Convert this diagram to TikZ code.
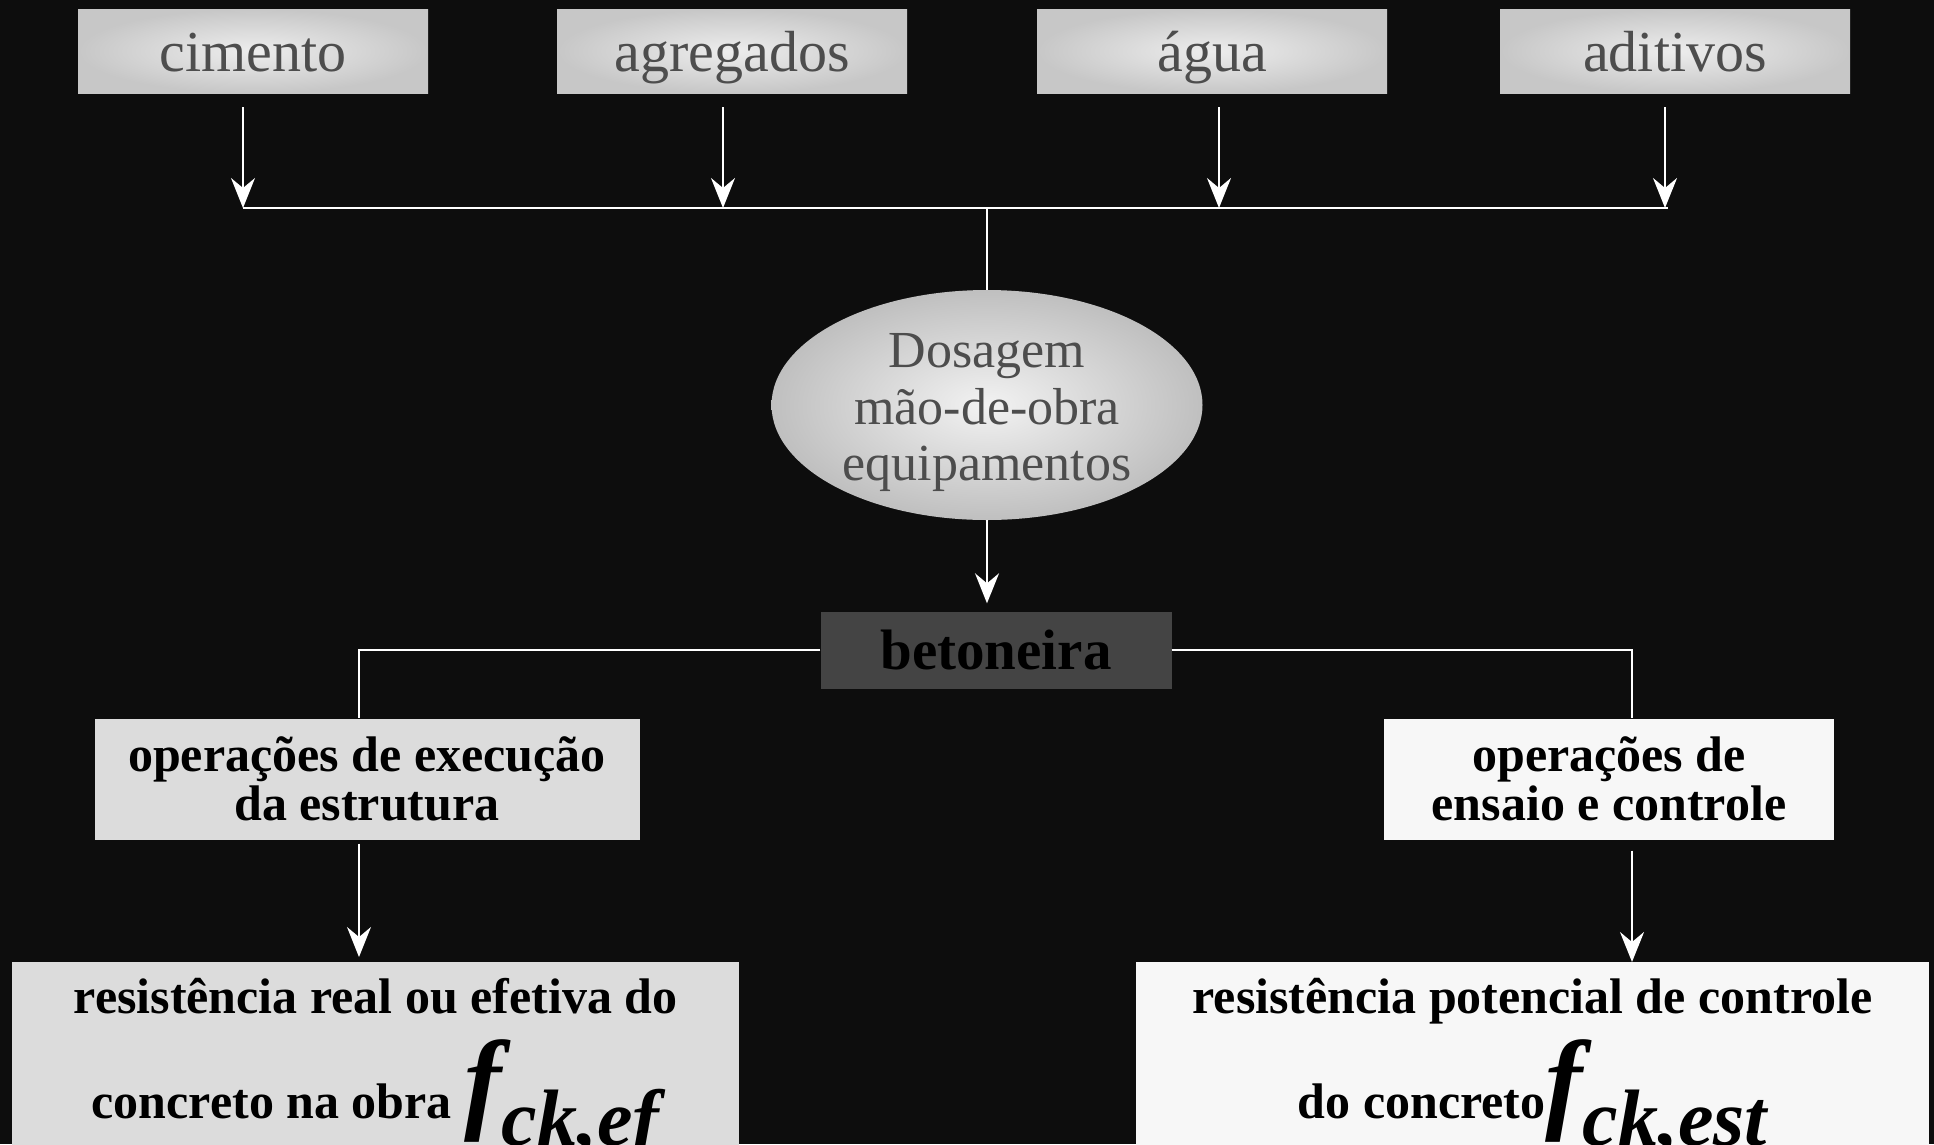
\documentclass[tikz,border=0pt]{standalone}
\usepackage{fontspec}
\setmainfont{Liberation Serif}
\usetikzlibrary{arrows.meta,positioning,shapes.geometric,calc}
\definecolor{fundo}{HTML}{0D0D0D}
\definecolor{cinzaclaro}{HTML}{DCDCDC}
\definecolor{quasebranco}{HTML}{F7F7F7}
\definecolor{cinzaescuro}{HTML}{444444}
\definecolor{texto}{HTML}{4D4D4D}
\newcommand{\letraf}{{\fontsize{112}{112}\selectfont\itshape f}}
\newcommand{\indice}[1]{\raisebox{-27pt}{\fontsize{80}{80}\selectfont\itshape #1}}

\begin{document}
\begin{tikzpicture}[x=1pt,y=-1pt,
  insumo/.style={rectangle,inner sep=0pt,minimum width=350pt,minimum height=84pt,inner color=white!93!black,outer color=white!78!black,text=texto,font=\fontsize{58}{58}\selectfont,text height=46pt,text depth=6pt},
  dosagem/.style={ellipse,inner sep=-8pt,minimum width=431pt,minimum height=230pt,inner color=white!95!black,outer color=white!75!black,text=texto,font=\fontsize{52}{56.5}\selectfont,align=center},
  misturador/.style={rectangle,inner sep=0pt,fill=cinzaescuro,minimum width=351pt,minimum height=77pt,font=\fontsize{57}{57}\selectfont\bfseries},
  operacao/.style={rectangle,inner sep=0pt,minimum height=121pt,font=\fontsize{50}{49}\selectfont\bfseries,align=center},
  resultado/.style={rectangle,inner xsep=0pt,inner ysep=16pt,font=\fontsize{50}{60}\selectfont\bfseries,align=center},
  ligacao/.style={line width=2pt,white},
  flecha/.style={-{Stealth[length=30pt,width=24pt,inset=10pt]},line width=2pt,white},
]
  \useasboundingbox (0,0) rectangle (1934,1144);
  \clip (0,0) rectangle (1934,1144);
  \fill[fundo] (0,0) rectangle (1934,1144);

  \node[insumo] (cim) at (253,51) {cimento};
  \node[insumo] (agr) at (732,51) {agregados};
  \node[insumo] (agu) at (1212,51) {água};
  \node[insumo] (adi) at (1675,51) {aditivos};
  \coordinate (junta) at (987,208);

  \node[dosagem] (dos) at (987,405) {\rule{0pt}{50pt}Dosagem\\mão-de-obra\\equipamentos};
  \node[misturador] (bet) at (996,650) {betoneira};

  \node[operacao,fill=cinzaclaro,minimum width=545pt] (exe) at (367,779) {operações de execução\\da estrutura};
  \node[operacao,fill=quasebranco,minimum width=450pt] (ens) at (1609,779) {operações de\\ensaio e controle};

  \node[resultado,fill=cinzaclaro,minimum width=727pt,anchor=north] (ref) at (375.5,962) {resistência real ou efetiva do\\[25pt]concreto na obra \letraf\indice{ck,ef}};
  \node[resultado,fill=quasebranco,minimum width=793pt,anchor=north] (rpc) at (1532.5,962) {resistência potencial de controle\\[15pt]do concreto\letraf\indice{ck,est}};

  \foreach \n/\dx in {cim/-10,agr/-9,agu/7,adi/-10}
    \draw[flecha] ([xshift=\dx pt,yshift=-14pt]\n.south) -- ([xshift=\dx pt]\n.south |- junta);
  \draw[ligacao] ([xshift=-10pt]cim.south |- junta) -- ([xshift=-7pt]adi.south |- junta);
  \draw[ligacao] (junta) -- (dos.north);
  \draw[flecha] (dos.south) -- ([yshift=8pt]dos.south |- bet.north);

  \draw[ligacao] (bet.west) -| ([xshift=-8pt]exe.north);
  \draw[ligacao] (bet.east) -| ([xshift=23pt]ens.north);

  \draw[flecha] ([xshift=-8pt,yshift=-4pt]exe.south) -- ([xshift=-8pt,yshift=5pt]exe.south |- ref.north);
  \draw[flecha] ([xshift=23pt,yshift=-11pt]ens.south) -- ([xshift=23pt]ens.south |- rpc.north);
\end{tikzpicture}
\end{document}
